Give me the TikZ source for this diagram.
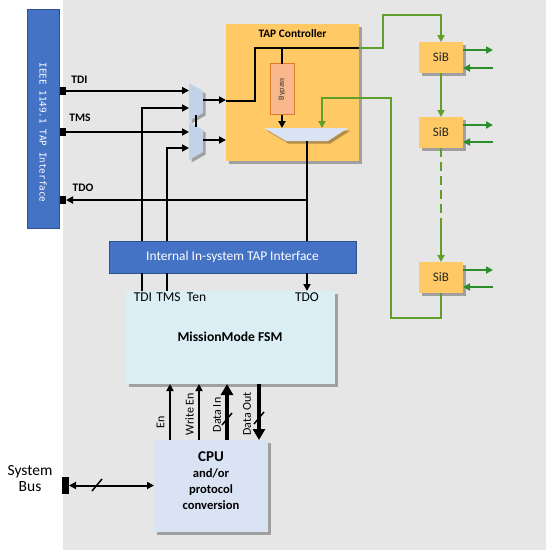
\documentclass[tikz,border=0pt]{standalone}
\usepackage{fontspec}
\setmainfont{Carlito}
\newfontfamily\monofont{DejaVu Sans Mono}
\usetikzlibrary{arrows.meta,shadows}
\definecolor{bggray}{HTML}{E6E6E6}
\definecolor{ieeeblue}{HTML}{4472C4}
\definecolor{ieeeborder}{HTML}{2F528F}
\definecolor{taporange}{HTML}{FFCA66}
\definecolor{bypassfill}{HTML}{F8B88B}
\definecolor{bypassdraw}{HTML}{E07B2E}
\definecolor{muxblue}{HTML}{C3D2E8}
\definecolor{omuxblue}{HTML}{DAE3F3}
\definecolor{fsmcyan}{HTML}{DAEEF3}
\definecolor{cpublue}{HTML}{DAE3F3}
\definecolor{chaing}{HTML}{5F9F2A}
\definecolor{outg}{HTML}{2B8E2B}
\begin{document}
\begin{tikzpicture}[x=1pt,y=-1pt,
  every node/.style={inner sep=0pt,outer sep=0pt},
  shad/.style={drop shadow={shadow xshift=2.5pt,shadow yshift=-2.5pt,opacity=0.3,fill=black}},
  sig/.style={line width=2pt,-{Triangle[length=7pt,width=7pt]}},
  wire/.style={line width=2pt},
  thickarrow/.style={line width=4.5pt,-{Triangle[length=11pt,width=12pt]}},
  slash/.style={line width=1.5pt},
  gwire/.style={draw=chaing,line width=1.8pt},
  garrow/.style={gwire,-{Triangle[length=7pt,width=7pt]}},
  oarrow/.style={draw=outg,line width=2pt,-{Triangle[length=7pt,width=7pt]}},
  term/.style={fill=black,minimum width=6pt,minimum height=8pt},
  pinlbl/.style={font=\bfseries\fontsize{11.5}{13}\selectfont},
  fsmpin/.style={font=\fontsize{13.5}{15}\selectfont},
  sib/.style={fill=taporange,shad,minimum width=44pt,minimum height=31pt,font=\fontsize{13}{15}\selectfont,text=black!85},
  vlbl/.style={rotate=90,font=\fontsize{12}{14}\selectfont}
]
\useasboundingbox (0,0) rectangle (546,550);
\fill[bggray] (63,0) rectangle (546,550);

% IEEE interface
\node[fill=ieeeblue,draw=ieeeborder,minimum width=32pt,minimum height=219pt] (ieee) at (43,118.5) {};
\node[rotate=-90,text=white,font=\monofont\fontsize{9.3}{11}\selectfont] (ieeetxt) at (43,132.5) {IEEE 1149.1 TAP Interface};
\node[term] (tdiT) at (63,90.5) {};
\node[term] (tmsT) at (63,132) {};
\node[term] (tdoT) at (63,200) {};
\node[pinlbl] (tdiL) at (79.5,80) {TDI};
\node[pinlbl] (tmsL) at (80,118) {TMS};
\node[pinlbl] (tdoL) at (83,188) {TDO};

% input muxes
\fill[muxblue,shad] (189,83) -- (203,91) -- (203,113) -- (189,121) -- cycle;
\fill[muxblue,shad] (189,122) -- (203,130) -- (203,152) -- (189,160) -- cycle;
\coordinate (m1a) at (189,90.5);
\coordinate (m1b) at (189,108);
\coordinate (m2a) at (189,132);
\coordinate (m2b) at (189,148);
\coordinate (m1o) at (203,100);
\coordinate (m2o) at (203,140);
\coordinate (selT) at (196,115);
\coordinate (selB) at (196,127);
\draw[wire] (selT) -- (selB);

% TAP controller
\node[fill=taporange,shad,minimum width=133pt,minimum height=137pt,anchor=north west] (tap) at (226,24) {};
\node[font=\bfseries\fontsize{11.4}{13}\selectfont] (taptitle) at (292.5,34) {TAP Controller};
\node[fill=bypassfill,draw=bypassdraw,line width=0.8pt,minimum width=24pt,minimum height=51pt] (byp) at (282,89) {};
\node[rotate=90,font=\fontsize{8}{9}\selectfont,text=black!80] (byptxt) at (byp) {Bypass};
\fill[omuxblue,shad] (264,128) -- (348,128) -- (328,141) -- (286,141) -- cycle;
\coordinate (omA) at (282,128);
\coordinate (omB) at (322,128);
\coordinate (omO) at (307,141);

\draw[sig] (tdiT.east) -- (m1a);
\draw[sig] (tmsT.east) -- (m2a);
\draw[sig] (m1o) -- (m1o -| tap.west);
\draw[sig] (m2o) -- (m2o -| tap.west);

\coordinate (tapIn) at (226,101);
\coordinate (tapR1) at (359,48);
\coordinate (bypTop) at (282,48);
\draw[wire] (tapIn) -- (255,101) -- (255,48) -- (tapR1);
\draw[wire] (bypTop) -- (byp.north);
\draw[sig] (byp.south) -- (omA);

% internal interface
\node[fill=ieeeblue,draw=ieeeborder,minimum width=247pt,minimum height=32pt,anchor=north west,text=white,font=\fontsize{13.4}{15}\selectfont] (intf) at (109,241) {Internal In-system TAP Interface};
\coordinate (tdoJ) at (307,200);
\draw[wire] (omO) -- (omO |- intf.north);
\draw[sig] (tdoJ) -- (tdoT.east);
\coordinate (v1) at (142,241);
\coordinate (v2) at (167,241);
\draw[sig] (v1) |- (m1b);
\draw[sig] (v2) |- (m2b);

% Mission mode FSM
\node[fill=fsmcyan,shad,minimum width=209pt,minimum height=93pt,anchor=north west] (fsm) at (126,291) {};
\node[font=\bfseries\fontsize{13.6}{15}\selectfont] (fsmtitle) at (230,337) {MissionMode FSM};
\node[fsmpin] (fTDI) at (143,297.5) {TDI};
\node[fsmpin] (fTMS) at (168.5,297.5) {TMS};
\node[fsmpin] (fTen) at (196.5,297.5) {Ten};
\node[fsmpin] (fTDO) at (307,297.5) {TDO};
\draw[wire] (142,273) -- (142,291);
\draw[wire] (167,273) -- (167,291);
\draw[sig] (307,273) -- (307,291);

% CPU
\node[fill=cpublue,shad,minimum width=114pt,minimum height=92pt,anchor=north west] (cpu) at (154,440) {};
\node[align=center,font=\bfseries\fontsize{12.6}{16}\selectfont] (cputxt) at (211,481) {{\fontsize{15}{16}\selectfont CPU}\\and/or\\protocol\\conversion};
\draw[sig] (170,440) -- (170,384);
\draw[sig] (199,440) -- (199,384);
\draw[thickarrow] (227,440) -- (227,384);
\draw[thickarrow] (259,384) -- (259,440);
\draw[slash] (222,425) -- (232,413);
\draw[slash] (254,424) -- (264,412);
\node[vlbl] (lEn) at (160.5,422) {En};
\node[vlbl] (lWEn) at (189.5,414) {Write En};
\node[vlbl] (lDIn) at (217,415) {Data In};
\node[vlbl] (lDOut) at (247,414) {Data Out};

% System bus
\node[align=center,font=\fontsize{15.5}{16}\selectfont] (sbtxt) at (30,479) {System\\Bus};
\node[fill=black,minimum width=7pt,minimum height=17pt] (sbT) at (65.5,485.5) {};
\draw[line width=2pt,{Triangle[length=7pt,width=7pt]}-{Triangle[length=7pt,width=7pt]}] (sbT.east) -- (sbT.east -| cpu.west);
\draw[slash] (92,491) -- (102,479);

% SiB chain
\node[sib] (sib1) at (441,57.5) {SiB};
\node[sib] (sib2) at (441,132.5) {SiB};
\node[sib] (sib3) at (441,277.5) {SiB};
\draw[garrow] (tapR1) -- (383,48) -- (383,15) -| (sib1.north);
\draw[garrow] (sib1) -- (sib2);
\coordinate (dashEnd) at (441,222);
\draw[gwire,dash pattern=on 9pt off 5pt] (sib2.south) -- (dashEnd);
\draw[garrow] (dashEnd) -- (sib3.north);
\draw[garrow] (sib3.south) |- (391,318) |- (322,98) -- (omB);
\foreach \s/\a/\b in {sib1/50/68, sib2/125/142, sib3/270/287}{
  \draw[oarrow] (\s.east |- 0,\a) -- (493,\a);
  \draw[oarrow] (493,\b) -- (\s.east |- 0,\b);
}
\end{tikzpicture}
\end{document}
